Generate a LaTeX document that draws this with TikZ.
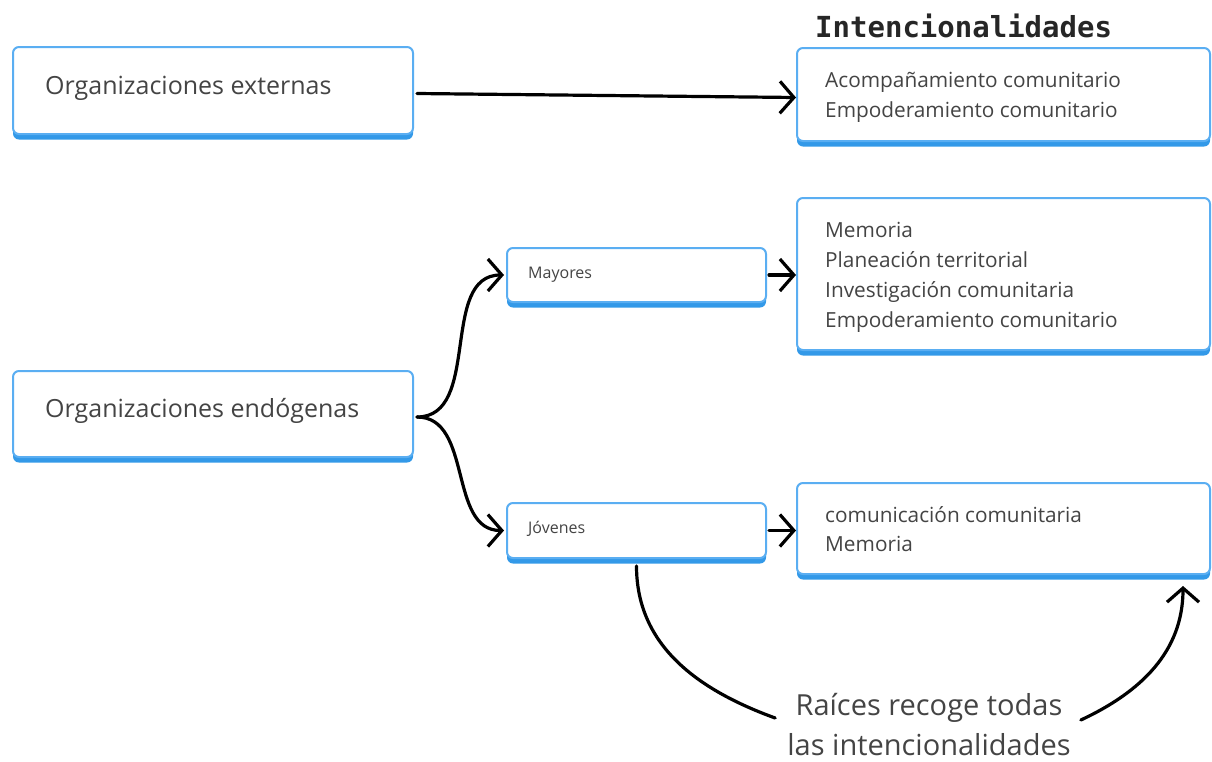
\documentclass[tikz,border=0pt]{standalone}
\usepackage{fontspec}
\setmainfont{Open Sans}
\newfontfamily\headfont{DejaVu Sans Mono}
\usetikzlibrary{arrows.meta,shadows,calc}
\definecolor{boxedge}{HTML}{5AAEF2}
\definecolor{boxbar}{HTML}{3399E8}
\definecolor{ink}{HTML}{444444}

\begin{document}
\begin{tikzpicture}[x=1pt,y=-1pt,
  card/.style={draw=boxedge, line width=2pt, fill=white, rounded corners=6pt,
    inner sep=0pt,
    drop shadow={shadow xshift=0pt, shadow yshift=-5.5pt, fill=boxbar, opacity=1}},
  bigtxt/.style={text=ink, font=\fontsize{25}{30}\selectfont, inner sep=0pt, anchor=base west},
  midtxt/.style={text=ink, font=\fontsize{20.8}{26}\selectfont, inner sep=0pt, anchor=base west},
  smalltxt/.style={text=ink, font=\fontsize{16}{19}\selectfont, inner sep=0pt, anchor=base west},
  notetxt/.style={text=ink, font=\fontsize{29}{40}\selectfont, inner sep=0pt, align=center},
  headtxt/.style={text=black!85, font=\headfont\bfseries\fontsize{29}{32}\selectfont, inner sep=0pt, anchor=base west},
  arr/.style={line width=3.2pt, line cap=round, black,
    -{Straight Barb[length=14pt,width=32pt,line width=3.2pt]}},
  link/.style={line width=3.2pt, line cap=round, black}]

\useasboundingbox (0,0) rectangle (1212,761);

% boxes
\node[card, minimum width=400pt, minimum height=87pt] (ext)  at (213,90.5) {};
\node[card, minimum width=413pt, minimum height=93pt] (int1) at (1003.5,94.5) {};
\node[card, minimum width=259pt, minimum height=54pt] (may)  at (636.5,275) {};
\node[card, minimum width=413pt, minimum height=152pt] (int2) at (1003.5,274) {};
\node[card, minimum width=400pt, minimum height=86pt] (endo) at (213,414) {};
\node[card, minimum width=259pt, minimum height=55pt] (jov)  at (636.5,530.5) {};
\node[card, minimum width=413pt, minimum height=91pt] (int3) at (1003.5,528.5) {};

% texts
\node[headtxt] (head) at (815,37) {Intencionalidades};
\node[bigtxt] (ext-t) at (45,94) {Organizaciones externas};
\node[bigtxt] (endo-t) at (45,417) {Organizaciones endógenas};
\node[smalltxt] (may-t) at (528,278) {Mayores};
\node[smalltxt] (jov-t) at (528,533) {Jóvenes};

\node[midtxt] (int1-a) at (825,87) {Acompañamiento comunitario};
\node[midtxt] (int1-b) at (825,117) {Empoderamiento comunitario};

\node[midtxt] (int2-a) at (825,237) {Memoria};
\node[midtxt] (int2-b) at (825,267) {Planeación territorial};
\node[midtxt] (int2-c) at (825,297) {Investigación comunitaria};
\node[midtxt] (int2-d) at (825,327) {Empoderamiento comunitario};

\node[midtxt] (int3-a) at (825,522) {comunicación comunitaria};
\node[midtxt] (int3-b) at (825,551) {Memoria};

\node[notetxt] (note) at (929,725) {Raíces recoge todas\\las intencionalidades};

% connectors
\draw[arr] ([xshift=3pt,yshift=-3pt]ext.east) -- ([yshift=-3pt]int1.west);
\draw[arr] ([xshift=2pt]may.east) -- (int2.west |- may.east);
\draw[arr] ([xshift=2pt]jov.east) -- (int3.west |- jov.east);
\draw[arr] ([xshift=3pt,yshift=-3pt]endo.east) to[out=0,in=180] ([xshift=-2pt]may.west);
\draw[arr] ([xshift=3pt,yshift=-3pt]endo.east) to[out=0,in=180] ([xshift=-2pt]jov.west);

\coordinate (noteL) at ($(note.west)+(-12,-7)$);
\coordinate (noteR) at ($(note.east)+(10,-5)$);
\coordinate (int3in) at ($(int3.south east)+(-28,11)$);
\draw[link] ([yshift=-7pt]jov.south) to[out=-90,in=160] (noteL);
\draw[arr] (noteR) to[out=25,in=-90] (int3in);

\end{tikzpicture}
\end{document}
